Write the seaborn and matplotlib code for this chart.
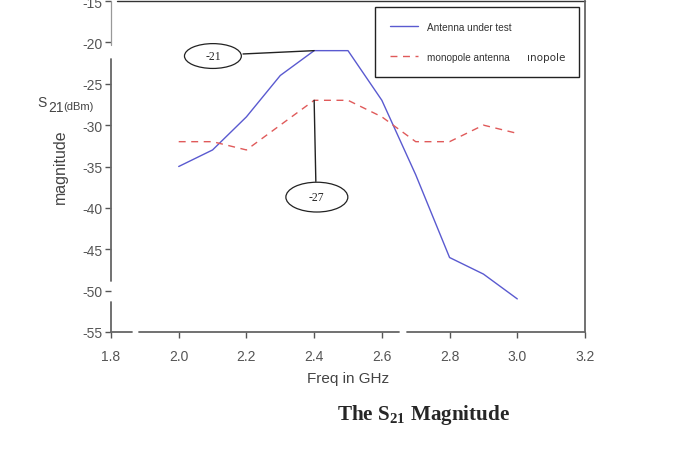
import matplotlib
matplotlib.use("Agg")
import numpy as np
import pandas as pd
import matplotlib.pyplot as plt
import seaborn as sns
from matplotlib.patches import Ellipse

# values
freq_ghz = [2.0, 2.1, 2.2, 2.3, 2.4, 2.5, 2.6, 2.7, 2.8, 2.9, 3.0]
s21_test = [-35, -33, -29, -24, -21, -21, -27, -36, -46, -48, -51]
s21_monopole = [-32, -32, -33, -30, -27, -27, -29, -32, -32, -30, -31]
x_ticks = [1.8, 2.0, 2.2, 2.4, 2.6, 2.8, 3.0, 3.2]
y_ticks = [-55, -50, -45, -40, -35, -30, -25, -20, -15]
label_test = "Antenna under test"
label_mono = "monopole antenna"

sns.set_style("white")
plt.rcParams['font.family'] = ['Liberation Sans', 'DejaVu Sans']
plt.rcParams['mathtext.fontset'] = 'custom'
plt.rcParams['mathtext.rm'] = 'Liberation Serif:bold'
plt.rcParams['mathtext.bf'] = 'Liberation Serif:bold'

df = pd.DataFrame({"freq": freq_ghz, "test": s21_test, "mono": s21_monopole})

fig = plt.figure(figsize=(7, 4.6), dpi=100)
ax = fig.add_axes([111 / 700, 1 - 333 / 460, 474 / 700, 331 / 460])

sns.lineplot(data=df, x="freq", y="test", ax=ax, color="#5a5ad0", lw=1.0, label=label_test)
sns.lineplot(data=df, x="freq", y="mono", ax=ax, color="#e05a5a", lw=1.0,
             linestyle=(0, (5, 4)), label=label_mono)

ax.set_xlim(1.8, 3.2)
ax.set_ylim(-55, -15)
ax.set_xticks(x_ticks)
ax.set_xticklabels([f"{t:.1f}" for t in x_ticks])
ax.set_yticks(y_ticks)
ax.set_yticklabels([str(t) for t in y_ticks])
ax.tick_params(axis="both", direction="out", length=4, width=1, color="#555555",
               labelsize=10, labelcolor="#555555", bottom=True, left=True)
ax.tick_params(axis="x", pad=8)
ax.tick_params(axis="y", pad=2)
ax.set_xlabel("")
ax.set_ylabel("")

# broken frame, like the scanned original
for s in ["left", "bottom", "top"]:
    ax.spines[s].set_visible(False)
ax.spines["right"].set_color("#666666")
ax.spines["right"].set_linewidth(1.3)
seg_kw = dict(transform=ax.transAxes, clip_on=False, color="#666666", lw=1.3)
ax.plot([0, 0], [0, 0.0906], **seg_kw)
ax.plot([0, 0], [0.154, 0.825], **seg_kw)
ax.plot([0, 0], [0.867, 1.0], color="#999999", lw=0.9, transform=ax.transAxes, clip_on=False)
ax.plot([0, 0.0443], [0, 0], **seg_kw)
ax.plot([0.059, 0.6076], [0, 0], **seg_kw)
ax.plot([0.6245, 1.0], [0, 0], **seg_kw)
ax.plot([0.0127, 1.0], [1, 1], color="#333333", lw=1.0, transform=ax.transAxes, clip_on=False)

# legend
leg = ax.legend(loc="upper left", bbox_to_anchor=(0.557, 0.776, 0.43, 0.206), mode="expand",
                frameon=True, fancybox=False, edgecolor="#222222", framealpha=1,
                prop={"size": 7.2}, handlelength=2.8, handletextpad=0.9, labelspacing=2.0,
                borderpad=1.5, borderaxespad=0)
leg.get_frame().set_linewidth(1.0)
for t in leg.get_texts():
    t.set_color("#333333")
ax.text(3.029, -21.8, "\u0131nopole", fontsize=7.5, color="#333333",
        family="DejaVu Sans", va="center", ha="left", zorder=10)

# callouts
ax.plot([2.19, 2.4], [-21.4, -21], color="#222222", lw=1.0)
ax.add_patch(Ellipse((2.101, -21.65), 0.168, 3.0, fill=False, ec="#222222", lw=0.9))
ax.text(2.101, -21.65, "-21", family="Liberation Serif", fontsize=8.5,
        ha="center", va="center")
ax.plot([2.4, 2.405], [-27, -36.8], color="#222222", lw=1.0)
ax.add_patch(Ellipse((2.408, -38.7), 0.183, 3.6, fill=False, ec="#222222", lw=0.9))
ax.text(2.408, -38.7, "-27", family="Liberation Serif", fontsize=8.5,
        ha="center", va="center")

# axis titles
fig.text(348 / 700, 1 - 379 / 460, "Freq in GHz", fontsize=11, color="#444444",
         ha="center", va="center")
fig.text(60 / 700, 1 - 167 / 460, "magnitude", fontsize=11.5, color="#444444",
         rotation=90, ha="center", va="center")
fig.text(37 / 700, 1 - 107 / 460, "S", fontsize=10, color="#444444", ha="left", va="baseline")
fig.text(48 / 700, 1 - 112 / 460, "21", fontsize=10, color="#444444", ha="left", va="baseline")
fig.text(63 / 700, 1 - 110 / 460, "(dBm)", fontsize=8, color="#444444", ha="left", va="baseline")

# caption under the figure
fig.text(424 / 700, 1 - 420 / 460, r"The S$_{\mathrm{21}}$ Magnitude", fontsize=15.2,
         family="Liberation Serif", weight="bold", ha="center", va="baseline")

fig.savefig("out.png", dpi=100, facecolor="white")
